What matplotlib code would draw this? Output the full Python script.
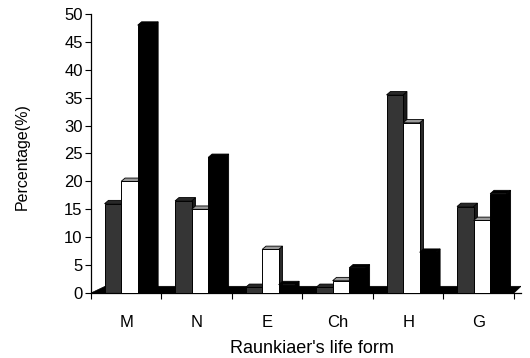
import matplotlib
matplotlib.use("Agg")
import matplotlib.pyplot as plt
from matplotlib.patches import Polygon
import numpy as np

plt.rcParams['font.family'] = ['Liberation Sans', 'DejaVu Sans']

categories = ["M", "N", "E", "Ch", "H", "G"]
series_a = [16.0, 16.5, 1.0, 1.0, 35.5, 15.5]   # dark gray
series_b = [20.0, 15.0, 7.8, 2.2, 30.5, 13.0]   # white
series_c = [48.0, 24.3, 1.5, 4.5, 7.3, 17.8]    # black
yticks = list(range(0, 51, 5))

fig = plt.figure(figsize=(5.3, 3.58), dpi=100)
ax = fig.add_axes([91 / 530, 65 / 358, 430 / 530, 279 / 358])

x = np.arange(len(categories))
w = 0.235
offsets = [-0.19, 0.045, 0.28]
dx, dy = 0.055, 0.6
styles = [
    dict(front="#353535", side="#1a1a1a", top="#282828"),
    dict(front="white", side="#2a2a2a", top="#9a9a9a"),
    dict(front="black", side="black", top="black"),
]

# floor
floor_h = 1.2
ax.add_patch(Polygon([(-0.5, 0), (5.5, 0), (5.5 + 0.1, floor_h), (-0.5 + 0.2, floor_h)],
                     closed=True, facecolor="black", edgecolor="black", lw=0.5, zorder=1))

z = 2
for i in range(len(categories)):
    for k, vals in enumerate([series_a, series_b, series_c]):
        v = vals[i]
        st = styles[k]
        x0 = x[i] + offsets[k] - w / 2
        x1 = x0 + w
        ax.add_patch(Polygon([(x1, 0), (x1 + dx, dy), (x1 + dx, v + dy), (x1, v)],
                             closed=True, facecolor=st["side"], edgecolor="black", lw=0.6, zorder=z))
        ax.add_patch(Polygon([(x0, v), (x0 + dx, v + dy), (x1 + dx, v + dy), (x1, v)],
                             closed=True, facecolor=st["top"], edgecolor="black", lw=0.6, zorder=z))
        ax.bar(x[i] + offsets[k], v, width=w, color=st["front"], edgecolor="black",
               linewidth=0.7, zorder=z + 0.5)
        z += 1

ax.set_xlim(-0.5, 5.6)
ax.set_ylim(0, 50)
ax.set_yticks(yticks)
ax.set_yticklabels([str(t) for t in yticks], fontsize=12)
ax.set_xticks(x)
ax.set_xticklabels(categories, fontsize=12)
ax.set_xticks(np.arange(-0.5, 6.0, 1.0), minor=True)
ax.tick_params(axis='x', which='major', length=0, pad=16)
ax.tick_params(axis='x', which='minor', length=4, width=0.8, direction='out')
ax.tick_params(axis='y', length=4, width=0.8, direction='out', pad=2)
for s in ["top", "right"]:
    ax.spines[s].set_visible(False)
for s in ["left", "bottom"]:
    ax.spines[s].set_linewidth(0.9)
ax.set_ylabel("Percentage(%)", fontsize=11.5)
ax.yaxis.set_label_coords(-0.142, 0.489)
ax.set_xlabel("Raunkiaer's life form", fontsize=13)
ax.xaxis.set_label_coords(0.514, -0.168)

fig.savefig("out.png", dpi=100)
